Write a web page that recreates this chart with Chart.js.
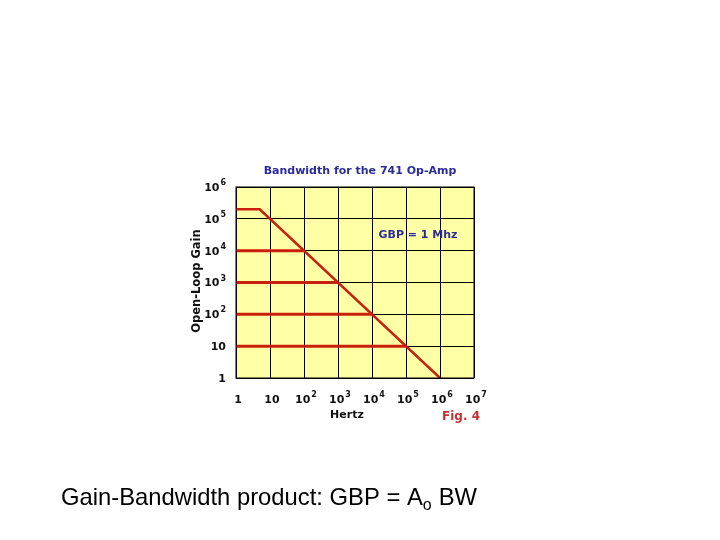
<!DOCTYPE html>
<html><head><meta charset="utf-8">
<script src="https://cdn.jsdelivr.net/npm/chart.js@4/dist/chart.umd.min.js"></script>
<style>html,body{margin:0;background:#fff}#wrap{width:720px;height:540px}</style>
</head><body><div id="wrap"><canvas id="c" width="720" height="540"></canvas></div>
<script>
// tick exponents on both axes (0 -> "1", 1 -> "10", otherwise 10^n)
const xExponents = [0, 1, 2, 3, 4, 5, 6, 7];
const yExponents = [0, 1, 2, 3, 4, 5, 6];
// open-loop response of the 741: flat to ~5 Hz then -20 dB/dec
const responseHz = [1, 5, 1e6];
const responseGain = [2e5, 2e5, 1];
// closed-loop gains and their bandwidths
const closedGains = [1e4, 1e3, 1e2, 10];
const closedBW = [100, 1e3, 1e4, 1e5];

const red = '#c8200c';
const navy = '#2b2b9b';

const datasets = [{
    data: responseHz.map((x, i) => ({ x: x, y: responseGain[i] })),
    borderColor: red, borderWidth: 2.5, pointRadius: 0
}];
closedGains.forEach((g, i) => {
    datasets.push({
        data: [{ x: 1, y: g }, { x: closedBW[i], y: g }],
        borderColor: red, borderWidth: 3, pointRadius: 0
    });
});

function pow10Label(ctx, e, x, y, align) {
    // draws "1", "10" or "10" + superscript
    ctx.font = 'bold 11px "DejaVu Sans"';
    ctx.textBaseline = 'middle';
    if (e < 2) {
        ctx.textAlign = align;
        ctx.fillText(e === 0 ? '1' : '10', x, y);
        return;
    }
    const w = ctx.measureText('10').width;
    ctx.font = 'bold 8px "DejaVu Sans"';
    const sw = ctx.measureText(String(e)).width;
    let left = align === 'right' ? x - w - sw - 1 : x - (w + sw + 1) / 2;
    ctx.textAlign = 'left';
    ctx.fillText(String(e), left + w + 1, y - 5);
    ctx.font = 'bold 11px "DejaVu Sans"';
    ctx.fillText('10', left, y);
}

const decor = {
    id: 'decor',
    beforeDraw(chart) {
        const { ctx, chartArea: a } = chart;
        ctx.save();
        ctx.fillStyle = '#ffffa6';
        ctx.fillRect(a.left, a.top, a.right - a.left, a.bottom - a.top);
        ctx.restore();
    },
    afterDraw(chart) {
        const { ctx, chartArea: a } = chart;
        const xs = chart.scales.x, ys = chart.scales.y;
        ctx.save();
        ctx.strokeStyle = '#000';
        ctx.lineWidth = 1;
        ctx.strokeRect(a.left, a.top, a.right - a.left, a.bottom - a.top);
        ctx.fillStyle = '#111';
        yExponents.forEach(e => pow10Label(ctx, e, 226, ys.getPixelForValue(Math.pow(10, e)) + 1, 'right'));
        xExponents.forEach(e => pow10Label(ctx, e, xs.getPixelForValue(Math.pow(10, e)) + 2, 400, 'center'));
        ctx.font = 'bold 11px "DejaVu Sans"';
        ctx.textAlign = 'center';
        ctx.fillText('Hertz', 347, 415);
        ctx.save();
        ctx.translate(197, 281);
        ctx.rotate(-Math.PI / 2);
        ctx.font = 'bold 11.5px "DejaVu Sans"';
        ctx.fillText('Open-Loop Gain', 0, 0);
        ctx.restore();
        ctx.fillStyle = navy;
        ctx.fillText('Bandwidth for the 741 Op-Amp', 360, 171);
        ctx.fillText('GBP = 1 Mhz', 418, 235);
        ctx.fillStyle = '#c83030';
        ctx.font = 'bold 12px "DejaVu Sans"';
        ctx.fillText('Fig. 4', 461, 417);
        // caption with subscript
        ctx.fillStyle = '#000';
        ctx.textAlign = 'left';
        ctx.font = '23.8px "Liberation Sans"';
        const s1 = 'Gain-Bandwidth product: GBP = A';
        ctx.fillText(s1, 61, 498);
        let px = 61 + ctx.measureText(s1).width;
        ctx.font = '16px "Liberation Sans"';
        ctx.fillText('o', px, 506);
        px += ctx.measureText('o').width + 7;
        ctx.font = '23.8px "Liberation Sans"';
        ctx.fillText('BW', px, 498);
        ctx.restore();
    }
};

const axisBase = {
    type: 'logarithmic',
    border: { display: false },
    ticks: { display: false },
    grid: { color: '#000', lineWidth: 1, drawTicks: false }
};

new Chart(document.getElementById('c'), {
    type: 'line',
    data: { datasets: datasets },
    options: {
        responsive: false,
        animation: false,
        layout: { padding: { left: 236, right: 246, top: 187, bottom: 162 } },
        plugins: { legend: { display: false }, tooltip: { enabled: false } },
        scales: {
            x: Object.assign({}, axisBase, {
                min: 1, max: 1e7,
                afterBuildTicks: s => { s.ticks = xExponents.map(e => ({ value: Math.pow(10, e) })); }
            }),
            y: Object.assign({}, axisBase, {
                min: 1, max: 1e6,
                afterBuildTicks: s => { s.ticks = yExponents.map(e => ({ value: Math.pow(10, e) })); }
            })
        }
    },
    plugins: [decor]
});
</script></body></html>
